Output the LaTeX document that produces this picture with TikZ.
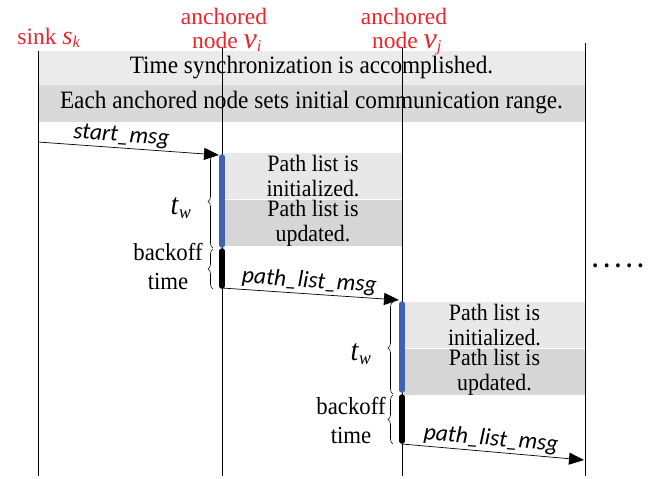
\documentclass[tikz,border=0pt]{standalone}
\usepackage{fontspec}
\setmainfont{Liberation Serif}[FakeStretch=0.93]
\newfontfamily\hdrfont{Liberation Serif}
\newfontfamily\msgfont{Carlito}
\usetikzlibrary{arrows.meta,decorations.pathreplacing}
\definecolor{hdrred}{HTML}{E8262E}
\definecolor{bandA}{HTML}{EBEBEB}
\definecolor{bandB}{HTML}{D9D9D9}
\definecolor{boxA}{HTML}{E8E8E8}
\definecolor{boxB}{HTML}{D6D6D6}
\definecolor{barblue}{HTML}{4061B4}
\newcommand{\bigtxt}{\fontsize{25}{27}\selectfont}
\newcommand{\hdrtxt}{\hdrfont\fontsize{23.5}{26}\selectfont}
\newcommand{\boxtxt}{\fontsize{23.5}{25}\selectfont}
\newcommand{\sidetxt}{\fontsize{24.5}{29}\selectfont}
\tikzset{
  lifeline/.style={draw=black, line width=0.7pt},
  header/.style={text=hdrred, font=\hdrtxt, inner sep=0pt, align=center},
  bandnode/.style={minimum width=547pt, inner sep=0pt, font=\bigtxt},
  pathbox/.style={minimum height=46pt, inner sep=0pt, align=center, font=\boxtxt},
  msg/.style={draw, line width=0.7pt, -{Triangle[length=15pt,width=12pt]}},
  msglabel/.style={font=\msgfont\itshape\fontsize{23.5}{26}\selectfont, inner sep=2pt},
  waitbar/.style={line width=5.5pt, line cap=round, draw=barblue},
  backbar/.style={line width=5.5pt, line cap=round, draw=black},
  timebrace/.style={draw, line width=0.6pt, decoration={brace, amplitude=5pt}, decorate},
  sidelabel/.style={font=\sidetxt, align=center, inner sep=0pt}
}
\newcommand{\twlabel}{{\fontsize{30}{30}\selectfont\textit{t}}\textsubscript{\fontsize{19}{19}\selectfont\textit{w}}}
\begin{document}
\begin{tikzpicture}[x=1pt,y=-1pt]
\useasboundingbox (0,0) rectangle (651,479);
% bands
\node[bandnode, fill=bandA, minimum height=34pt] (band1) at (311.5,67.5) {Time synchronization is accomplished.};
\node[bandnode, fill=bandB, minimum height=37pt] (band2) at (311.5,103) {Each anchored node sets initial communication range.};
% path list boxes
\node[pathbox, fill=boxA, minimum width=178pt] (p1a) at (313,176) {Path list is\\initialized.};
\node[pathbox, fill=boxB, minimum width=178pt] (p1b) at (313,223) {Path list is\\updated.};
\node[pathbox, fill=boxA, minimum width=181pt] (p2a) at (494.5,325) {Path list is\\initialized.};
\node[pathbox, fill=boxB, minimum width=181pt] (p2b) at (494.5,372) {Path list is\\updated.};
% headers
\node[header, anchor=base] (hs) at (49,44) {sink {\fontsize{26}{26}\selectfont\textit{s}}\textsubscript{\textit{k}}};
\node[header, anchor=base] (hi1) at (224,24) {anchored};
\node[header, anchor=base] (hi2) at (227,48) {node {\fontsize{30}{30}\selectfont\textit{v}}\textsubscript{\textit{i}}};
\node[header, anchor=base] (hj1) at (404,24) {anchored};
\node[header, anchor=base] (hj2) at (407,48) {node {\fontsize{30}{30}\selectfont\textit{v}}\textsubscript{\textit{j}}};
% lifelines
\coordinate (s-top) at (38,51);
\coordinate (s-bot) at (38,476);
\coordinate (vi-top) at (222,48);
\coordinate (vi-bot) at (222,476);
\coordinate (vj-top) at (402,48);
\coordinate (vj-bot) at (402,476);
\coordinate (x-top) at (585,43);
\coordinate (x-bot) at (585,476);
\draw[lifeline] (s-top) -- (s-bot);
\draw[lifeline] (vi-top) -- (vi-bot);
\draw[lifeline] (vj-top) -- (vj-bot);
\draw[lifeline] (x-top) -- (x-bot);
% message points
\coordinate (m1s) at (38,142);
\coordinate (m1e) at (219,155);
\coordinate (m2s) at (222,288);
\coordinate (m2e) at (399,300);
\coordinate (m3s) at (402,444);
\coordinate (m3e) at (584,460);
% bars
\coordinate (b1t) at (222,157);
\coordinate (b1m) at (222,245);
\coordinate (b1n) at (222,251);
\coordinate (b1e) at (222,286);
\coordinate (b2t) at (402,304);
\coordinate (b2m) at (402,390);
\coordinate (b2n) at (402,397);
\coordinate (b2e) at (402,441);
\draw[waitbar] (b1t) -- (b1m);
\draw[backbar] (b1n) -- (b1e);
\draw[waitbar] (b2t) -- (b2m);
\draw[backbar] (b2n) -- (b2e);
% messages
\draw[msg] (m1s) -- (m1e) node[msglabel, midway, above, sloped, xshift=-8pt] (l1) {start\_msg};
\draw[msg] (m2s) -- (m2e) node[msglabel, midway, above, sloped, xshift=-2pt] (l2) {path\_list\_msg};
\draw[msg] (m3s) -- (m3e) node[msglabel, midway, above, sloped, xshift=-3pt] (l3) {path\_list\_msg};
% braces
\coordinate (r1a) at (213,248);
\coordinate (r1b) at (213,155);
\coordinate (r2a) at (213,289);
\coordinate (r2b) at (213,249);
\coordinate (r3a) at (393,394);
\coordinate (r3b) at (393,302);
\coordinate (r4a) at (393,444);
\coordinate (r4b) at (393,395);
\draw[timebrace] (r1a) -- (r1b);
\draw[timebrace] (r2a) -- (r2b);
\draw[timebrace] (r3a) -- (r3b);
\draw[timebrace] (r4a) -- (r4b);
% side labels
\node[sidelabel] (tw1) at (181,208) {\twlabel};
\node[sidelabel] (bo1) at (168,266) {backoff\\time};
\node[sidelabel] (tw2) at (361,354) {\twlabel};
\node[sidelabel] (bo2) at (351,420) {backoff\\time};
\node[font=\bigtxt\bfseries, inner sep=0pt] (dots) at (618,266) {.\hspace{5.5pt}.\hspace{5.5pt}.\hspace{5.5pt}.\hspace{5.5pt}.};
\end{tikzpicture}
\end{document}
